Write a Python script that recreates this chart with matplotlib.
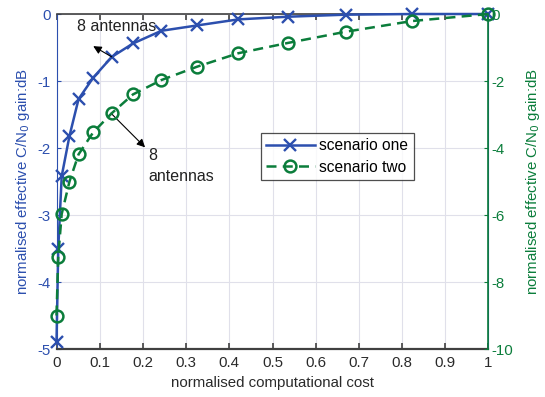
import matplotlib
matplotlib.use("Agg")
import matplotlib.pyplot as plt

plt.rcParams['font.family'] = ['Liberation Sans', 'DejaVu Sans']
plt.rcParams['axes.unicode_minus'] = False

cost = [0, 0.004, 0.012, 0.03, 0.051, 0.085, 0.128, 0.177, 0.243, 0.326, 0.421, 0.537, 0.669, 0.823, 1.0]
scenario_one = [-4.89, -3.51, -2.42, -1.82, -1.27, -0.95, -0.64, -0.44, -0.25, -0.17, -0.08, -0.04, -0.01, 0.0, 0.0]
scenario_two = [-9.0, -7.24, -5.97, -5.0, -4.19, -3.53, -2.96, -2.40, -1.97, -1.57, -1.17, -0.86, -0.53, -0.21, 0.0]
xticks = [0, 0.1, 0.2, 0.3, 0.4, 0.5, 0.6, 0.7, 0.8, 0.9, 1]
xticklabels = ['0', '0.1', '0.2', '0.3', '0.4', '0.5', '0.6', '0.7', '0.8', '0.9', '1']
yticks_left = [-5, -4, -3, -2, -1, 0]
yticks_right = [-10, -8, -6, -4, -2, 0]

blue = '#2c4fae'
green = '#0b7d3b'
dark = '#404040'

fig = plt.figure(figsize=(5.45, 3.97), dpi=100)
ax = fig.add_axes([0.1037, 0.1209, 0.7926, 0.8438])
ax2 = ax.twinx()

l1, = ax.plot(cost, scenario_one, color=blue, lw=1.8, marker='x', ms=8, mew=1.7,
              clip_on=False, zorder=3, label='scenario one')
l2, = ax2.plot(cost, scenario_two, color=green, lw=1.8, ls=(0, (4, 2.5)), marker='o', ms=8.5,
               mfc='none', mew=1.8, clip_on=False, zorder=3, label='scenario two')

ax.set_xlim(0, 1)
ax.set_ylim(-5, 0)
ax2.set_ylim(-10, 0)
ax.set_xticks(xticks)
ax.set_xticklabels(xticklabels)
ax.set_yticks(yticks_left)
ax2.set_yticks(yticks_right)

ax.grid(True, color='#e0e0ea', lw=0.8)
ax.set_axisbelow(True)

fs = 10.8
ax.tick_params(axis='x', direction='in', top=True, colors=dark, labelsize=fs, length=4, width=1.2, pad=5)
ax.tick_params(axis='y', direction='in', colors=blue, labelsize=fs, length=3, pad=4)
ax2.tick_params(axis='y', direction='in', colors=green, labelsize=fs, length=3, pad=2)
for lab in ax.get_xticklabels():
    lab.set_color('#2a2a2a')

for s in ['top', 'bottom']:
    ax.spines[s].set_color(dark)
    ax2.spines[s].set_visible(False)
ax.spines['bottom'].set_linewidth(1.6)
ax.spines['top'].set_linewidth(1.2)
ax.spines['left'].set_color(blue)
ax.spines['right'].set_color(blue)
ax2.spines['left'].set_visible(False)
ax2.spines['right'].set_color(green)
ax2.spines['right'].set_linewidth(1.2)

ax.set_xlabel('normalised computational cost', fontsize=fs, color='#2a2a2a', labelpad=4)
ax.set_ylabel('normalised effective C/N$_0$ gain:dB', fontsize=fs, color=blue, labelpad=4)
ax2.set_ylabel('normalised effective C/N$_0$ gain:dB', fontsize=fs, color=green, labelpad=8)

arrow = dict(arrowstyle='-|>', color='black', lw=0.8, mutation_scale=12, shrinkA=0, shrinkB=0)
ax.annotate('', xy=(0.085, -0.48), xytext=(0.128, -0.64), arrowprops=arrow)
ax.text(0.047, -0.19, '8 antennas', fontsize=11.5, color='#222222', va='center', ha='left')
ax.annotate('', xy=(0.205, -1.99), xytext=(0.126, -1.48), arrowprops=arrow)
ax.text(0.212, -2.0, '8\nantennas', fontsize=11.5, color='#222222', va='top', ha='left', linespacing=1.5)

leg = ax2.legend(handles=[l1, l2], loc='upper left', bbox_to_anchor=(0.473, 0.645),
                 fontsize=11.2, frameon=True, fancybox=False, handlelength=3.1,
                 borderpad=0.35, labelspacing=0.4, handletextpad=0.3, borderaxespad=0)
leg.get_frame().set_edgecolor('#222222')
leg.get_frame().set_linewidth(0.9)

fig.savefig('out.png', dpi=100)
